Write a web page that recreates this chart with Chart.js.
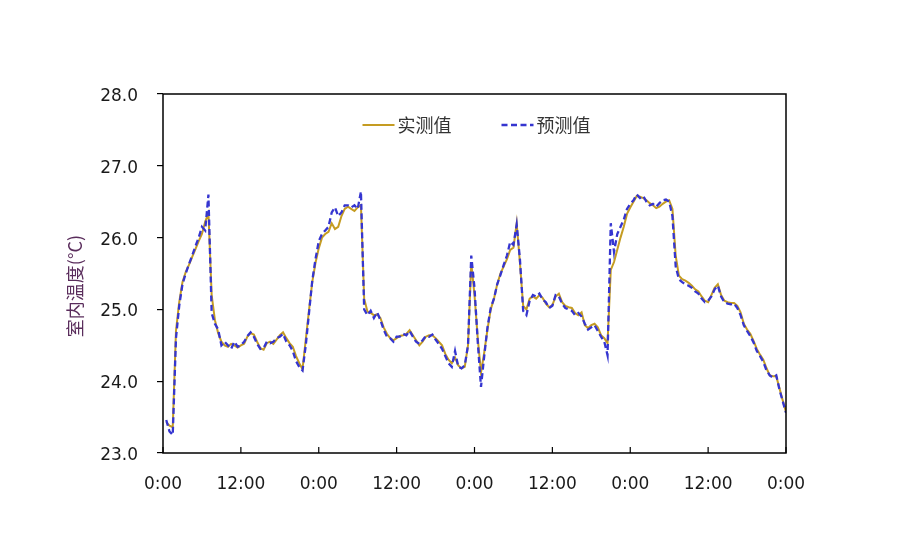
<!DOCTYPE html>
<html><head><meta charset="utf-8">
<script src="https://cdn.jsdelivr.net/npm/chart.js@4.4.1/dist/chart.umd.min.js"></script>
<style>html,body{margin:0;padding:0;background:#fff;}#wrap{width:900px;height:552px;}</style>
</head><body><div id="wrap"><canvas id="c" width="900" height="552"></canvas></div>
<script>
// time in hours from start (4 days, half-hour samples)
const hours = [
0.5,1,1.5,2,2.5,3,3.5,4,4.5,5,5.5,6,6.5,7,7.5,8,8.5,9,9.5,10,10.5,11,11.5,12,
12.5,13,13.5,14,14.5,15,15.5,16,16.5,17,17.5,18,18.5,19,19.5,20,20.5,21,21.5,22,22.5,23,23.5,24,
24.5,25,25.5,26,26.5,27,27.5,28,28.5,29,29.5,30,30.5,31,31.5,32,32.5,33,33.5,34,34.5,35,35.5,36,
36.5,37,37.5,38,38.5,39,39.5,40,40.5,41,41.5,42,42.5,43,43.5,44,44.5,45,45.5,46,46.5,47,47.5,48,
48.5,49,49.5,50,50.5,51,51.5,52,52.5,53,53.5,54,54.5,55,55.5,56,56.5,57,57.5,58,58.5,59,59.5,60,
60.5,61,61.5,62,62.5,63,63.5,64,64.5,65,65.5,66,66.5,67,67.5,68,68.5,69,69.5,70,70.5,71,71.5,72,
72.5,73,73.5,74,74.5,75,75.5,76,76.5,77,77.5,78,78.5,79,79.5,80,80.5,81,81.5,82,82.5,83,83.5,84,
84.5,85,85.5,86,86.5,87,87.5,88,88.5,89,89.5,90,90.5,91,91.5,92,92.5,93,93.5,94,94.5,95,95.5,96];

const measured = [
23.43,23.38,23.36,24.70,25.10,25.38,25.52,25.62,25.73,25.84,25.95,26.05,26.22,26.34,25.20,24.85,24.67,24.55,24.50,24.48,24.52,24.50,24.47,24.50,
24.52,24.62,24.67,24.65,24.55,24.46,24.44,24.53,24.55,24.52,24.58,24.64,24.68,24.60,24.53,24.48,24.35,24.25,24.17,24.58,24.99,25.38,25.65,25.85,
26.00,26.05,26.08,26.20,26.12,26.15,26.30,26.40,26.43,26.40,26.37,26.42,26.45,25.15,24.97,24.95,24.92,24.93,24.88,24.75,24.66,24.60,24.57,24.60,
24.63,24.64,24.66,24.71,24.64,24.57,24.50,24.55,24.62,24.64,24.64,24.60,24.55,24.50,24.38,24.30,24.25,24.33,24.22,24.18,24.20,24.50,25.65,25.20,
24.60,24.12,24.40,24.72,25.00,25.15,25.35,25.50,25.60,25.70,25.83,25.86,26.20,25.65,25.05,25.00,25.15,25.18,25.15,25.20,25.16,25.08,25.03,25.06,
25.18,25.22,25.10,25.05,25.03,25.02,24.95,24.92,24.96,24.78,24.74,24.78,24.80,24.75,24.64,24.60,24.53,25.55,25.66,25.83,26.00,26.15,26.33,26.42,
26.50,26.58,26.57,26.55,26.52,26.48,26.45,26.41,26.43,26.47,26.50,26.52,26.40,25.75,25.47,25.42,25.40,25.37,25.33,25.28,25.25,25.18,25.12,25.10,
25.20,25.30,25.35,25.20,25.12,25.10,25.09,25.09,25.05,24.96,24.80,24.72,24.66,24.56,24.45,24.37,24.30,24.18,24.08,24.07,24.07,23.90,23.73,23.57];

const predicted = [
23.46,23.30,23.25,24.60,25.05,25.35,25.50,25.63,25.75,25.88,26.00,26.15,26.10,26.60,24.95,24.80,24.72,24.50,24.55,24.50,24.45,24.55,24.48,24.50,
24.55,24.63,24.68,24.62,24.52,24.45,24.46,24.55,24.53,24.55,24.60,24.62,24.66,24.55,24.50,24.42,24.28,24.20,24.15,24.50,24.95,25.40,25.70,25.95,
26.05,26.10,26.15,26.35,26.42,26.30,26.35,26.45,26.45,26.42,26.45,26.40,26.64,25.00,24.92,24.98,24.88,24.96,24.85,24.72,24.62,24.60,24.55,24.62,
24.62,24.66,24.64,24.70,24.62,24.55,24.52,24.57,24.63,24.62,24.65,24.58,24.52,24.45,24.35,24.25,24.20,24.42,24.20,24.18,24.22,24.50,25.75,25.30,
24.55,23.92,24.35,24.75,25.02,25.15,25.35,25.48,25.62,25.75,25.94,25.90,26.18,25.70,24.98,24.92,25.12,25.20,25.18,25.22,25.14,25.10,25.02,25.05,
25.20,25.18,25.08,25.02,25.00,24.98,24.92,24.95,24.90,24.80,24.72,24.75,24.78,24.70,24.62,24.55,24.36,26.20,25.80,26.05,26.15,26.25,26.40,26.47,
26.52,26.60,26.55,26.58,26.50,26.45,26.47,26.43,26.48,26.52,26.53,26.50,26.30,25.60,25.42,25.38,25.35,25.33,25.30,25.25,25.22,25.15,25.10,25.12,
25.18,25.28,25.33,25.18,25.10,25.08,25.07,25.08,25.02,24.92,24.78,24.70,24.63,24.54,24.42,24.35,24.27,24.15,24.08,24.05,24.08,23.88,23.72,23.56];

const seriesNames = ['实测值', '预测值'];
const xTickText = ['0:00', '12:00'];
const yTitle = '室内温度(°C)';

const COL_MEAS = '#C59C22';
const COL_PRED = '#3535D0';

const toPts = vals => hours.map((h, i) => ({x: h, y: vals[i]}));

const framePlugin = {
  id: 'frame',
  afterDraw(chart) {
    const {ctx, chartArea: a, scales} = chart;
    ctx.save();
    ctx.strokeStyle = '#000';
    ctx.lineWidth = 1.5;
    ctx.strokeRect(a.left, a.top, a.right - a.left, a.bottom - a.top);
    // inward x ticks
    const xs = scales.x;
    ctx.lineWidth = 1.2;
    xs.ticks.forEach(t => {
      const px = xs.getPixelForValue(t.value);
      ctx.beginPath(); ctx.moveTo(px, a.bottom); ctx.lineTo(px, a.bottom - 6); ctx.stroke();
    });
    // y title
    ctx.translate(75, 286);
    ctx.rotate(-Math.PI / 2);
    ctx.font = '18px "Noto Sans CJK SC", sans-serif';
    ctx.fillStyle = '#5A2D5C';
    ctx.textAlign = 'center';
    ctx.textBaseline = 'middle';
    ctx.fillText(yTitle, 0, 0);
    ctx.restore();

    // legend
    ctx.save();
    ctx.font = '18px "Noto Sans CJK SC", sans-serif';
    const ds = chart.data.datasets;
    const lineLen = 32, gapT = 3, gapItem = 50;
    const widths = ds.map(d => ctx.measureText(d.label).width);
    const total = ds.reduce((s, d, i) => s + lineLen + gapT + widths[i], 0) + gapItem * (ds.length - 1);
    let x = (a.left + a.right) / 2 - total / 2 + 2;
    const y = a.top + 31;
    ds.forEach((d, i) => {
      ctx.strokeStyle = d.borderColor;
      ctx.lineWidth = d.borderWidth;
      ctx.setLineDash(d.borderDash || []);
      ctx.beginPath(); ctx.moveTo(x, y); ctx.lineTo(x + lineLen, y); ctx.stroke();
      ctx.setLineDash([]);
      x += lineLen + gapT;
      ctx.fillStyle = '#333';
      ctx.textBaseline = 'middle';
      ctx.textAlign = 'left';
      ctx.fillText(d.label, x, y);
      x += widths[i] + gapItem;
    });
    ctx.restore();
  }
};

new Chart(document.getElementById('c'), {
  type: 'line',
  data: {
    datasets: [
      {label: seriesNames[0], data: toPts(measured), borderColor: COL_MEAS, backgroundColor: COL_MEAS,
       borderWidth: 2, pointRadius: 0, tension: 0, order: 2},
      {label: seriesNames[1], data: toPts(predicted), borderColor: COL_PRED, backgroundColor: COL_PRED,
       borderWidth: 2.3, borderDash: [6, 3.5], pointRadius: 0, tension: 0, order: 1}
    ]
  },
  options: {
    responsive: false,
    animation: false,
    layout: {padding: {left: 0, right: 114, top: 94, bottom: 0}},
    plugins: {legend: {display: false}, tooltip: {enabled: false}},
    scales: {
      x: {
        type: 'linear', min: 0, max: 96,
        afterFit(s) { s.height = 99; },
        grid: {display: true, drawOnChartArea: false, drawTicks: false},
        border: {display: false},
        ticks: {
          stepSize: 12, autoSkip: false, maxRotation: 0, padding: 21,
          color: '#1a1a1a', font: {family: '"DejaVu Sans", sans-serif', size: 17},
          callback: v => (v % 24 === 0 ? xTickText[0] : xTickText[1])
        }
      },
      y: {
        min: 23, max: 28,
        afterFit(s) { s.width = 163; },
        grid: {drawOnChartArea: false, drawTicks: true, tickLength: 6, color: '#000', lineWidth: 1.2},
        border: {display: false},
        ticks: {
          stepSize: 1, padding: 19, labelOffset: 2.5, color: '#1a1a1a',
          font: {family: '"DejaVu Sans", sans-serif', size: 17},
          callback: v => v.toFixed(1)
        }
      }
    }
  },
  plugins: [framePlugin]
});
</script>
</body></html>
